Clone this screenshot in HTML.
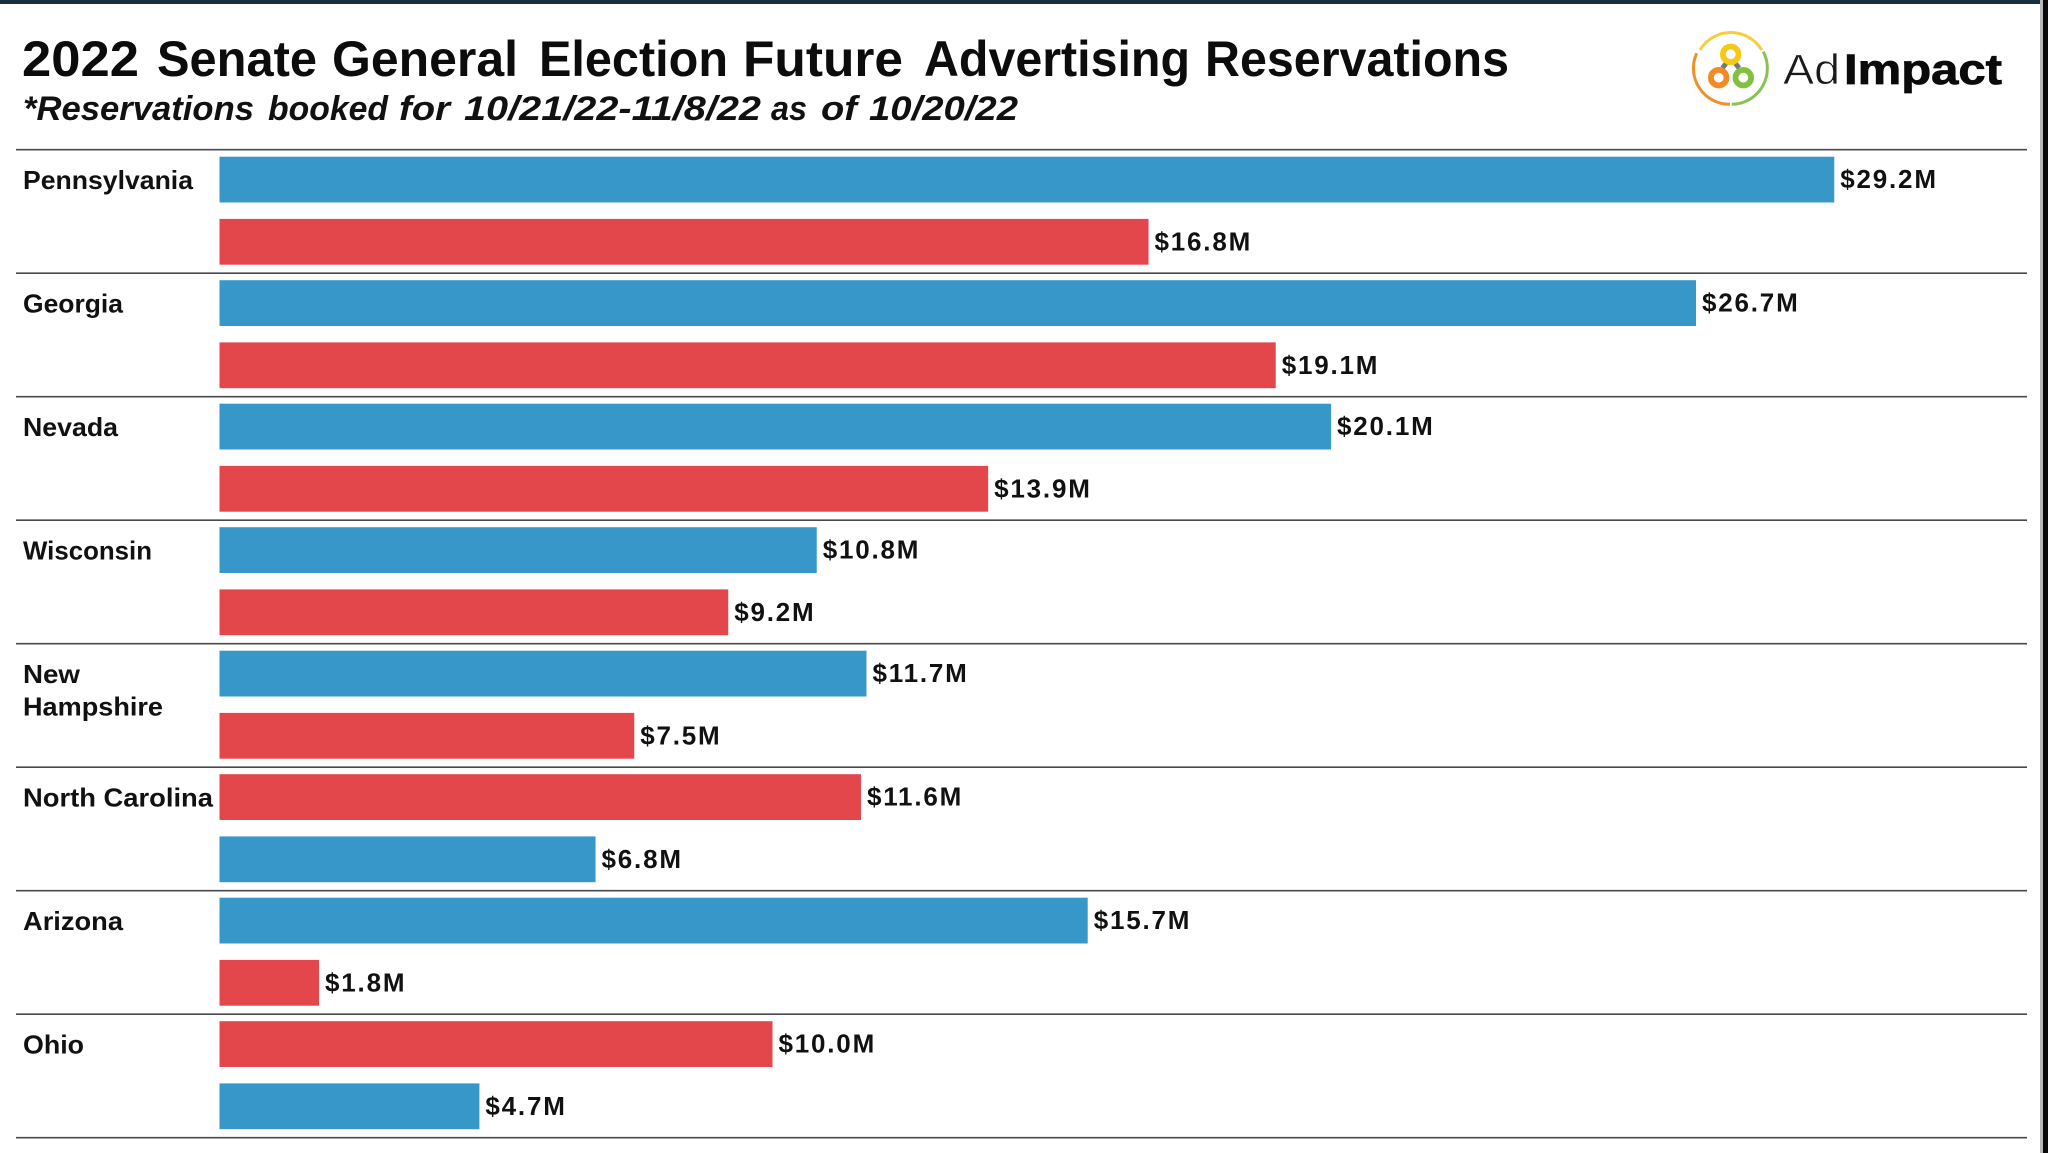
<!DOCTYPE html>
<html lang="en">
<head>
<meta charset="utf-8">
<title>2022 Senate General Election Future Advertising Reservations</title>
<style>
html,body{margin:0;padding:0;background:#fff;}
body{width:2048px;height:1153px;overflow:hidden;position:relative;}
svg{display:block;position:absolute;left:0;top:0;font-family:"Liberation Sans",sans-serif;}
.state{font-size:26px;font-weight:700;fill:#111;}
</style>
</head>
<body>
<svg id="chart" width="2048" height="1153" viewBox="0 0 2048 1153">
  <rect x="0" y="0" width="2048" height="1153" fill="#ffffff"/>
  <rect x="0" y="0" width="2048" height="4" fill="#17303f"/>
  <rect x="2040" y="0" width="3" height="1153" fill="#b9b9b9"/>
  <rect x="2043" y="0" width="5" height="1153" fill="#0a0a0a"/>

  <text y="76" font-size="50" font-weight="700" fill="#0c0c0c" lengthAdjust="spacingAndGlyphs"><tspan x="22" textLength="117" lengthAdjust="spacingAndGlyphs">2022</tspan> <tspan x="157" textLength="160" lengthAdjust="spacingAndGlyphs">Senate</tspan> <tspan x="332" textLength="186" lengthAdjust="spacingAndGlyphs">General</tspan> <tspan x="539" textLength="189" lengthAdjust="spacingAndGlyphs">Election</tspan> <tspan x="743" textLength="160" lengthAdjust="spacingAndGlyphs">Future</tspan> <tspan x="924" textLength="266" lengthAdjust="spacingAndGlyphs">Advertising</tspan> <tspan x="1205" textLength="304" lengthAdjust="spacingAndGlyphs">Reservations</tspan></text>
  <text y="120" font-size="34" font-weight="700" font-style="italic" fill="#111"><tspan x="23" textLength="231" lengthAdjust="spacingAndGlyphs">*Reservations</tspan> <tspan x="268" textLength="120" lengthAdjust="spacingAndGlyphs">booked</tspan> <tspan x="399" textLength="51" lengthAdjust="spacingAndGlyphs">for</tspan> <tspan x="464" textLength="297" lengthAdjust="spacingAndGlyphs">10/21/22-11/8/22</tspan> <tspan x="771" textLength="36" lengthAdjust="spacingAndGlyphs">as</tspan> <tspan x="821" textLength="36" lengthAdjust="spacingAndGlyphs">of</tspan> <tspan x="869" textLength="149" lengthAdjust="spacingAndGlyphs">10/20/22</tspan></text>

  <g>
    <path d="M1700 50 A36 36 0 0 1 1761.7 50" fill="none" stroke="#f4cf3a" stroke-width="3"/>
    <path d="M1763.3 51.7 A36 36 0 0 1 1731.7 104.3" fill="none" stroke="#8cc152" stroke-width="3"/>
    <path d="M1730 104.3 A36 36 0 0 1 1696.7 53.3" fill="none" stroke="#f28f2d" stroke-width="3"/>
    <line x1="1726" y1="63.5" x2="1722.5" y2="68" stroke="#777" stroke-width="5"/>
    <line x1="1735.5" y1="63.5" x2="1739" y2="68" stroke="#777" stroke-width="5"/>
    <circle cx="1730.7" cy="54.3" r="7.8" fill="#fff" stroke="#f6c915" stroke-width="5.8"/>
    <circle cx="1718.7" cy="77.7" r="7.8" fill="#fff" stroke="#f28a25" stroke-width="5.8"/>
    <circle cx="1743.3" cy="77.7" r="7.8" fill="#fff" stroke="#83c03f" stroke-width="5.8"/>
    <text x="1783" y="84" font-size="43" fill="#1a1a1a" stroke="#fff" stroke-width="0.7" textLength="57" lengthAdjust="spacingAndGlyphs">Ad</text>
    <text x="1844" y="84" font-size="43" font-weight="700" fill="#0b0b0b" stroke="#0b0b0b" stroke-width="0.8" textLength="158" lengthAdjust="spacingAndGlyphs">Impact</text>
  </g>

  <g>
    <text class="state" x="23" y="189.2" textLength="170" lengthAdjust="spacingAndGlyphs">Pennsylvania</text>
    <text class="state" x="23" y="312.7" textLength="100" lengthAdjust="spacingAndGlyphs">Georgia</text>
    <text class="state" x="23" y="436.2" textLength="95" lengthAdjust="spacingAndGlyphs">Nevada</text>
    <text class="state" x="23" y="559.7" textLength="129" lengthAdjust="spacingAndGlyphs">Wisconsin</text>
    <text class="state" x="23" y="683.2" textLength="57" lengthAdjust="spacingAndGlyphs">New</text>
    <text class="state" x="23" y="715.6" textLength="140" lengthAdjust="spacingAndGlyphs">Hampshire</text>
    <text class="state" x="23" y="806.7" textLength="190" lengthAdjust="spacingAndGlyphs">North Carolina</text>
    <text class="state" x="23" y="930.2" textLength="100" lengthAdjust="spacingAndGlyphs">Arizona</text>
    <text class="state" x="23" y="1053.7" textLength="61" lengthAdjust="spacingAndGlyphs">Ohio</text>
  </g>

  <g id="rows"></g>
</svg>
<script>
const states = ["Pennsylvania", "Georgia", "Nevada", "Wisconsin", "New Hampshire", "North Carolina", "Arizona", "Ohio"];
const topValues = [29.2, 26.7, 20.1, 10.8, 11.7, 11.6, 15.7, 10.0];
const bottomValues = [16.8, 19.1, 13.9, 9.2, 7.5, 6.8, 1.8, 4.7];
const topParties = ["D", "D", "D", "D", "D", "R", "D", "R"];
const bottomParties = ["R", "R", "R", "R", "R", "D", "R", "D"];

const svgNS = "http://www.w3.org/2000/svg";
const root = document.getElementById("rows");
const partyColor = function (p) { return p === "D" ? "#3897c9" : "#e3474b"; };
const xScale = function (v) { return v * 55.3; };
const rowY = function (i) { return 149.7 + i * 123.5; };
const slug = function (s) { return s.toLowerCase().replace(/\s+/g, "-"); };

function make(tag, attrs, parent) {
  const el = document.createElementNS(svgNS, tag);
  Object.keys(attrs).forEach(function (k) { el.setAttribute(k, attrs[k]); });
  parent.appendChild(el);
  return el;
}

function drawRule(y) {
  const line = make("line", { x1: 16, x2: 2027, y1: y, y2: y, stroke: "#4a4a4a", "stroke-width": 1.6 }, root);
  
  
}

function drawBar(value, party, y, name) {
  const bar = make("rect", { x: 219.5, y: y, width: xScale(value), height: 45.8, fill: partyColor(party) }, root);
  
  
  const label = make("text", {
    x: 219.5 + xScale(value) + 6, y: y + 31.5, "font-size": 26, "font-weight": 700,
    "letter-spacing": 1.8, fill: "#111"
  }, root);
  label.textContent = "$" + value.toFixed(1) + "M";
  
  
}

drawRule(rowY(0));
states.forEach(function (state, i) {
  const y = rowY(i);
  const name = slug(state);
  drawBar(topValues[i], topParties[i], y + 7, name + '-' + topParties[i].toLowerCase());
  drawBar(bottomValues[i], bottomParties[i], y + 69.2, name + '-' + bottomParties[i].toLowerCase());
  drawRule(rowY(i + 1));
});
</script>
</body>
</html>
